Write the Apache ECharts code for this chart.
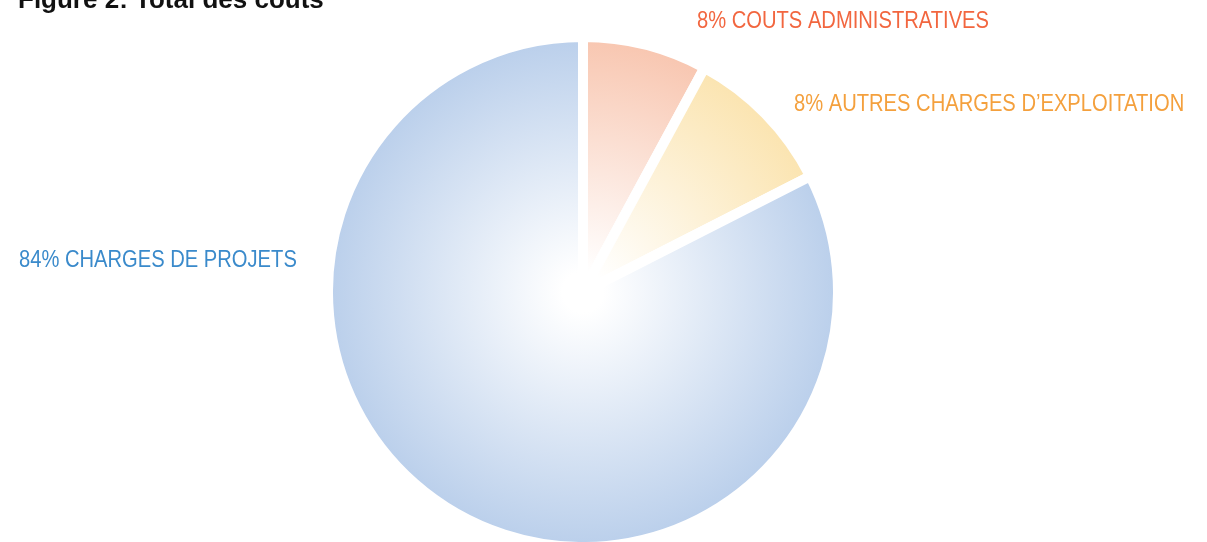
<!DOCTYPE html>
<html>
<head>
<meta charset="utf-8">
<title>Figure 2</title>
<script src="https://cdn.jsdelivr.net/npm/echarts@6/dist/echarts.min.js"></script>
<style>
  html, body { margin: 0; padding: 0; background: #fff; }
  #chart { width: 1207px; height: 542px; }
</style>
</head>
<body>
<div id="chart"></div>
<script>
// données
const categories = ['COUTS ADMINISTRATIVES', "AUTRES CHARGES D\u2019EXPLOITATION", 'CHARGES DE PROJETS']
const values = [7.9, 9.6, 82.5]
const shownPercent = ['8%', '8%', '84%']

// couleurs : bord de part, centre éclairci
const edgeColors = ['#f8c6b0', '#fbe4b0', '#bacfeb']
const labelColors = ['#f2663f', '#f4a03d', '#3a8acb']

const cx = 583, cy = 292, R = 255

// position des étiquettes (coin gauche, milieu vertical)
const labelPos = [
  [697, 21],
  [794, 104],
  [19, 260]
]

const chart = echarts.init(document.getElementById('chart'))

// étiquettes en police étroite (pas d'Arial Narrow ici : on compresse)
const labelGraphics = categories.map((name, i) => ({
  type: 'text',
  x: labelPos[i][0],
  y: labelPos[i][1],
  scaleX: 0.84,
  style: {
    text: shownPercent[i] + ' ' + name,
    fill: labelColors[i],
    font: '24px "Liberation Sans", Arial, sans-serif',
    verticalAlign: 'middle',
    align: 'left'
  }
}))

const option = {
  animation: false,
  title: {
    text: 'Figure 2: Total des couts',
    left: 13,
    top: -17,
    textStyle: {
      fontFamily: 'Liberation Sans, Arial, sans-serif',
      fontSize: 26,
      fontWeight: 'bold',
      color: '#111'
    }
  },
  graphic: labelGraphics,
  series: [
    {
      type: 'pie',
      center: [cx, cy],
      radius: [0, R],
      startAngle: 90,
      clockwise: true,
      itemStyle: {
        borderColor: '#fff',
        borderWidth: 10
      },
      label: { show: false },
      labelLine: { show: false },
      data: categories.map((name, i) => ({
        name,
        value: values[i],
        itemStyle: {
          color: {
            type: 'radial',
            global: true,
            x: cx,
            y: cy,
            r: R,
            colorStops: [
              { offset: 0, color: '#ffffff' },
              { offset: 0.08, color: '#ffffff' },
              { offset: 1, color: edgeColors[i] }
            ]
          }
        }
      }))
    }
  ]
}

chart.setOption(option)
</script>
</body>
</html>
